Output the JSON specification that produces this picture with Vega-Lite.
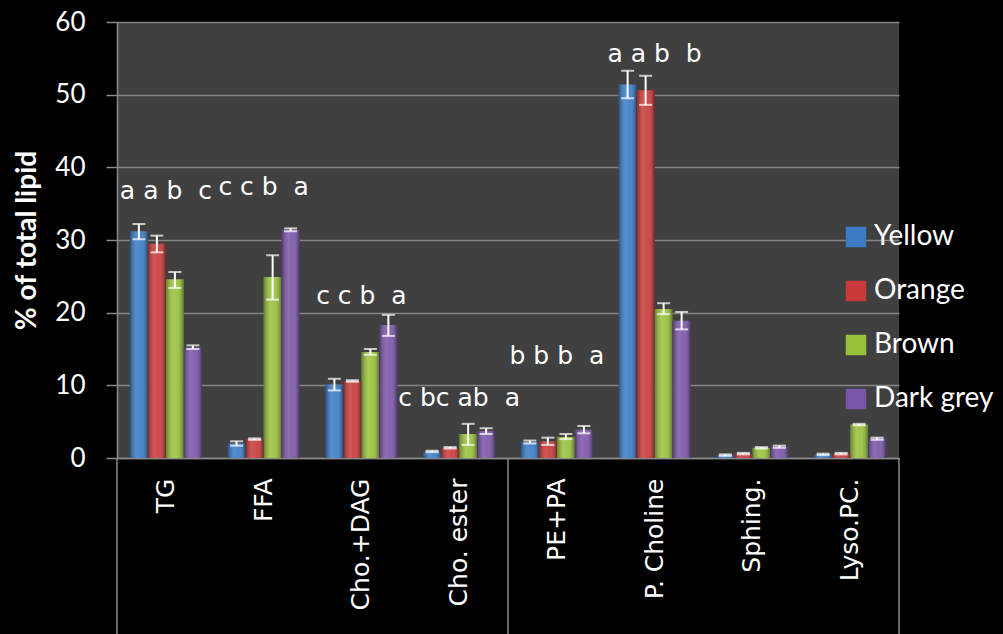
{
  "$schema": "https://vega.github.io/schema/vega-lite/v6.json",
  "width": 782,
  "height": 436,
  "autosize": {"type": "none"},
  "padding": {"left": 117, "top": 22, "right": 104, "bottom": 176},
  "background": "#000000",
  "config": {
    "view": {"fill": "#404040", "stroke": null},
    "font": "Lato"
  },
  "datasets": {
    "lipids": [
      {"class": "TG", "group": "Yellow", "pct": 31.2, "lo": 30.1, "hi": 32.2},
      {"class": "TG", "group": "Orange", "pct": 29.5, "lo": 28.3, "hi": 30.6},
      {"class": "TG", "group": "Brown", "pct": 24.6, "lo": 23.4, "hi": 25.6},
      {"class": "TG", "group": "Dark grey", "pct": 15.2, "lo": 15.0, "hi": 15.5},
      {"class": "FFA", "group": "Yellow", "pct": 2.0, "lo": 1.7, "hi": 2.3},
      {"class": "FFA", "group": "Orange", "pct": 2.6, "lo": 2.5, "hi": 2.7},
      {"class": "FFA", "group": "Brown", "pct": 24.9, "lo": 21.8, "hi": 27.9},
      {"class": "FFA", "group": "Dark grey", "pct": 31.4, "lo": 31.2, "hi": 31.6},
      {"class": "Cho.+DAG", "group": "Yellow", "pct": 10.1, "lo": 9.3, "hi": 10.9},
      {"class": "Cho.+DAG", "group": "Orange", "pct": 10.6, "lo": 10.5, "hi": 10.7},
      {"class": "Cho.+DAG", "group": "Brown", "pct": 14.6, "lo": 14.2, "hi": 15.0},
      {"class": "Cho.+DAG", "group": "Dark grey", "pct": 18.3, "lo": 16.8, "hi": 19.7},
      {"class": "Cho. ester", "group": "Yellow", "pct": 0.9, "lo": 0.8, "hi": 1.0},
      {"class": "Cho. ester", "group": "Orange", "pct": 1.4, "lo": 1.3, "hi": 1.5},
      {"class": "Cho. ester", "group": "Brown", "pct": 3.3, "lo": 1.8, "hi": 4.7},
      {"class": "Cho. ester", "group": "Dark grey", "pct": 3.7, "lo": 3.3, "hi": 4.1},
      {"class": "PE+PA", "group": "Yellow", "pct": 2.2, "lo": 2.0, "hi": 2.4},
      {"class": "PE+PA", "group": "Orange", "pct": 2.3, "lo": 1.8, "hi": 2.8},
      {"class": "PE+PA", "group": "Brown", "pct": 2.9, "lo": 2.6, "hi": 3.3},
      {"class": "PE+PA", "group": "Dark grey", "pct": 3.9, "lo": 3.4, "hi": 4.4},
      {"class": "P. Choline", "group": "Yellow", "pct": 51.4, "lo": 49.5, "hi": 53.3},
      {"class": "P. Choline", "group": "Orange", "pct": 50.6, "lo": 48.6, "hi": 52.6},
      {"class": "P. Choline", "group": "Brown", "pct": 20.5, "lo": 19.8, "hi": 21.3},
      {"class": "P. Choline", "group": "Dark grey", "pct": 18.9, "lo": 17.7, "hi": 20.1},
      {"class": "Sphing.", "group": "Yellow", "pct": 0.4, "lo": 0.3, "hi": 0.5},
      {"class": "Sphing.", "group": "Orange", "pct": 0.6, "lo": 0.5, "hi": 0.7},
      {"class": "Sphing.", "group": "Brown", "pct": 1.4, "lo": 1.3, "hi": 1.5},
      {"class": "Sphing.", "group": "Dark grey", "pct": 1.6, "lo": 1.4, "hi": 1.7},
      {"class": "Lyso.PC.", "group": "Yellow", "pct": 0.5, "lo": 0.4, "hi": 0.6},
      {"class": "Lyso.PC.", "group": "Orange", "pct": 0.6, "lo": 0.5, "hi": 0.7},
      {"class": "Lyso.PC.", "group": "Brown", "pct": 4.6, "lo": 4.5, "hi": 4.7},
      {"class": "Lyso.PC.", "group": "Dark grey", "pct": 2.7, "lo": 2.5, "hi": 2.8}
    ],
    "letters": [
      {"class": "TG", "letters": "a a b \u00a0c", "at": 35.7},
      {"class": "FFA", "letters": "c c b \u00a0a", "at": 36.2},
      {"class": "Cho.+DAG", "letters": "c c b \u00a0a", "at": 21.2},
      {"class": "Cho. ester", "letters": "c bc ab \u00a0a", "at": 7.1},
      {"class": "PE+PA", "letters": "b b b \u00a0a", "at": 13.0},
      {"class": "P. Choline", "letters": "a a b \u00a0b", "at": 54.5}
    ],
    "groupStarts": [
      {"class": "TG"},
      {"class": "PE+PA"}
    ],
    "groupEnds": [
      {"class": "Lyso.PC."}
    ]
  },
  "layer": [
    {
      "data": {"name": "lipids"},
      "mark": {"type": "bar"},
      "encoding": {
        "x": {
          "field": "class", "type": "nominal",
          "scale": {
            "domain": ["TG", "FFA", "Cho.+DAG", "Cho. ester", "PE+PA", "P. Choline", "Sphing.", "Lyso.PC."],
            "paddingInner": 0, "paddingOuter": 0
          },
          "axis": {
            "title": null,
            "labelAngle": -90,
            "labelFont": "DejaVu Sans",
            "labelFontSize": 25,
            "labelColor": "#ffffff",
            "labelPadding": 20,
            "ticks": false,
            "tickSize": 0,
            "domainColor": "#8a8a8a",
            "domainWidth": 1.5,
            "labelOverlap": false
          }
        },
        "xOffset": {
          "field": "group", "type": "nominal",
          "scale": {"domain": ["Yellow", "Orange", "Brown", "Dark grey"], "paddingInner": 0, "paddingOuter": 0.715}
        },
        "y": {
          "field": "pct", "type": "quantitative",
          "scale": {"domain": [0, 60], "nice": false},
          "axis": {
            "title": "% of total lipid",
            "titleFont": "Lato",
            "titleFontSize": 28,
            "titleFontWeight": "bold",
            "titleColor": "#ffffff",
            "titlePadding": 13,
            "values": [0, 10, 20, 30, 40, 50, 60],
            "labelFont": "Lato",
            "labelFontSize": 26,
            "labelColor": "#ffffff",
            "labelPadding": 21,
            "tickSize": 11,
            "tickColor": "#8a8a8a",
            "tickWidth": 1.5,
            "domainColor": "#8a8a8a",
            "domainWidth": 1.5,
            "gridColor": "#858585",
            "gridWidth": 1.5
          }
        },
        "color": {
          "field": "group", "type": "nominal",
          "scale": {
            "domain": ["Yellow", "Orange", "Brown", "Dark grey"],
            "range": ["#3a7cc6", "#c93a3a", "#98c23b", "#7b55a8"]
          },
          "legend": {
            "title": null,
            "orient": "none",
            "legendX": 725,
            "legendY": 201,
            "symbolType": "square",
            "symbolSize": 420,
            "symbolStrokeWidth": 0,
            "labelFont": "Lato",
            "labelFontSize": 28,
            "labelColor": "#ffffff",
            "labelOffset": 4,
            "rowPadding": 26
          }
        }
      }
    },
    {
      "data": {"name": "lipids"},
      "mark": {
        "type": "bar",
        "color": {
          "gradient": "linear", "x1": 0, "x2": 1, "y1": 0, "y2": 0,
          "stops": [
            {"offset": 0, "color": "rgba(0,0,0,0.35)"},
            {"offset": 0.4, "color": "rgba(255,255,255,0.14)"},
            {"offset": 0.6, "color": "rgba(255,255,255,0.08)"},
            {"offset": 1, "color": "rgba(0,0,0,0.4)"}
          ]
        }
      },
      "encoding": {
        "x": {"field": "class", "type": "nominal"},
        "xOffset": {"field": "group", "type": "nominal"},
        "y": {"field": "pct", "type": "quantitative"}
      }
    },
    {
      "data": {"name": "lipids"},
      "mark": {"type": "rule", "color": "#ffffff", "strokeWidth": 2},
      "encoding": {
        "x": {"field": "class", "type": "nominal"},
        "xOffset": {"field": "group", "type": "nominal"},
        "y": {"field": "lo", "type": "quantitative"},
        "y2": {"field": "hi"}
      }
    },
    {
      "data": {"name": "lipids"},
      "mark": {"type": "tick", "color": "#ffffff", "thickness": 2, "size": 13, "orient": "horizontal"},
      "encoding": {
        "x": {"field": "class", "type": "nominal"},
        "xOffset": {"field": "group", "type": "nominal"},
        "y": {"field": "lo", "type": "quantitative"}
      }
    },
    {
      "data": {"name": "lipids"},
      "mark": {"type": "tick", "color": "#ffffff", "thickness": 2, "size": 13, "orient": "horizontal"},
      "encoding": {
        "x": {"field": "class", "type": "nominal"},
        "xOffset": {"field": "group", "type": "nominal"},
        "y": {"field": "hi", "type": "quantitative"}
      }
    },
    {
      "data": {"name": "letters"},
      "mark": {"type": "text", "color": "#ffffff", "font": "DejaVu Sans", "fontSize": 25, "align": "center", "baseline": "alphabetic"},
      "encoding": {
        "x": {"field": "class", "type": "nominal"},
        "y": {"field": "at", "type": "quantitative"},
        "text": {"field": "letters"}
      }
    },
    {
      "data": {"name": "groupStarts"},
      "mark": {"type": "rule", "color": "#8a8a8a", "strokeWidth": 1.5},
      "encoding": {
        "x": {"field": "class", "type": "nominal", "bandPosition": 0},
        "y": {"datum": 0},
        "y2": {"datum": -24.3}
      }
    },
    {
      "data": {"name": "groupEnds"},
      "mark": {"type": "rule", "color": "#8a8a8a", "strokeWidth": 1.5},
      "encoding": {
        "x": {"field": "class", "type": "nominal", "bandPosition": 1},
        "y": {"datum": 0},
        "y2": {"datum": -24.3}
      }
    }
  ]
}
